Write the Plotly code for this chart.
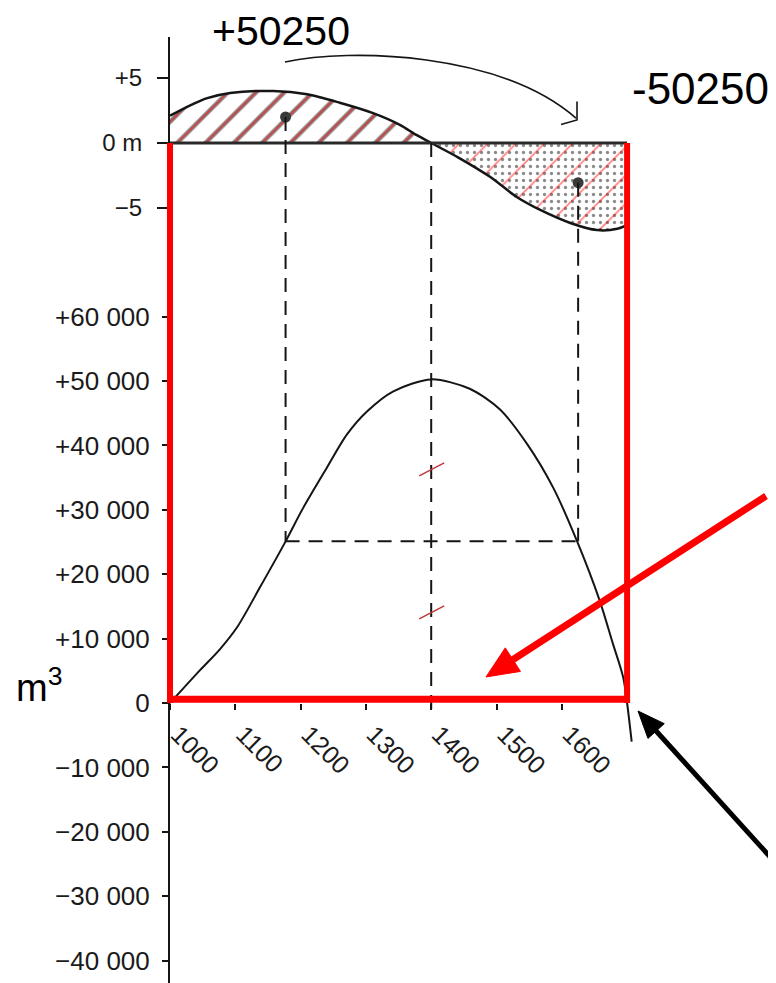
import math
import plotly.graph_objects as go

# ---------------- data ----------------
profile_station = [1000, 1031, 1057, 1092, 1158, 1210, 1260, 1311, 1352, 1378, 1400,
                   1441, 1490, 1531, 1567, 1613, 1654, 1685, 1700]
profile_height = [2.1, 2.9, 3.45, 3.85, 4.0, 3.75, 3.1, 2.3, 1.4, 0.6, 0.0,
                  -1.1, -2.6, -4.15, -5.15, -6.15, -6.7, -6.6, -6.3]

mass_station = [1000, 1046, 1076, 1103, 1138, 1176, 1204, 1240, 1271, 1302, 1342, 1400,
                1459, 1505, 1547, 1587, 1623, 1658, 1678, 1694, 1700, 1707]
mass_volume = [0, 5100, 8300, 11800, 18000, 24900, 30300, 36500, 41700, 45300, 48400, 50250,
               48800, 45600, 40200, 33400, 25200, 15900, 9300, 4000, 0, -6000]

station_ticks = [1000, 1100, 1200, 1300, 1400, 1500, 1600]
volume_ticks = [60000, 50000, 40000, 30000, 20000, 10000, 0,
                -10000, -20000, -30000, -40000]
volume_tick_labels = ["+60 000", "+50 000", "+40 000", "+30 000", "+20 000", "+10 000", "0",
                      "\u221210 000", "\u221220 000", "\u221230 000", "\u221240 000"]
height_ticks = [5, 0, -5]
height_tick_labels = ["+5", "0 m", "\u22125"]
height_minor_ticks = list(range(-8, 9))

centroid_station = [1177, 1625]
centroid_height = [2.0, -3.05]
balance_station = 1400
half_volume = 25125
bisect_volumes = [36200, 14000]
section_start, section_end = 1000, 1700
haul_labels = ["+50250", "-50250"]

# ---------------- layout geometry (page pixels; body has an 8px margin) ----------------
OFF = 8
PAGE_W, PAGE_H = 776, 983
W, H = PAGE_W - OFF, PAGE_H - OFF
AX_X, TOP_Y = 170, 37            # page position of the left axis and plot top
ML, MT = AX_X - OFF, TOP_Y - OFF
PLOT_W, PLOT_H = PAGE_W - AX_X, PAGE_H - TOP_Y
x_range = [1000, 1000 + PLOT_W / 0.653]
vol_range = [-(PAGE_H - 703) / 0.00644, (703 - TOP_Y) / 0.00644]
h_range = [-(PAGE_H - 143) / 13.0, (143 - TOP_Y) / 13.0]


def h_to_vol(h):
    f = (h - h_range[0]) / (h_range[1] - h_range[0])
    return vol_range[0] + f * (vol_range[1] - vol_range[0])


def paper_x(px):
    return (px - AX_X) / PLOT_W


def paper_y(py):
    return (PAGE_H - py) / PLOT_H


FONT = "Liberation Sans, Arial, sans-serif"
RED = "#ff0000"
INK = "#151515"

# split profile at the balance point
left_x = [s for s in profile_station if s <= balance_station]
left_y = profile_height[:len(left_x)]
right_x = [s for s in profile_station if s >= balance_station]
right_y = profile_height[len(profile_station) - len(right_x):]

fig = go.Figure()
clear = "rgba(0,0,0,0)"


def area(xs, ys, shape, color, size, solidity):
    fig.add_trace(go.Scatter(x=xs, y=ys, yaxis="y2", mode="lines",
                             line=dict(width=0, shape="spline", smoothing=0.8),
                             fill="tozeroy", fillcolor=clear,
                             fillpattern=dict(shape=shape, fgcolor=color, bgcolor=clear,
                                              size=size, solidity=solidity),
                             hoverinfo="skip"))


# cut area: black hatch + red hatch
area(left_x, left_y, "/", INK, 20, 0.22)
area(left_x, left_y, "/", RED, 20, 0.1)
# fill area: stipple + red hatch
area(right_x, right_y, ".", INK, 7, 0.17)
area(right_x, right_y, "/", RED, 20, 0.08)

# profile outline
fig.add_trace(go.Scatter(x=profile_station, y=profile_height, yaxis="y2", mode="lines",
                         line=dict(color=INK, width=2.5, shape="spline", smoothing=0.8)))
# centroids
fig.add_trace(go.Scatter(x=centroid_station, y=centroid_height, yaxis="y2", mode="markers",
                         marker=dict(color="#3a3a3a", size=11)))
# mass haul curve
fig.add_trace(go.Scatter(x=mass_station, y=mass_volume, yaxis="y", mode="lines",
                         line=dict(color=INK, width=2, shape="spline", smoothing=0.8)))

shapes = []
dash = dict(color=INK, width=2, dash="14px,9px")
# zero line of the profile
shapes.append(dict(type="line", xref="x", yref="y2", x0=section_start, x1=section_end,
                   y0=0, y1=0, line=dict(color="#2a2a2a", width=3)))
# dashed construction lines
for s, h in zip(centroid_station, centroid_height):
    shapes.append(dict(type="line", xref="x", yref="y", x0=s, x1=s,
                       y0=h_to_vol(h), y1=half_volume, line=dash))
shapes.append(dict(type="line", xref="x", yref="y", x0=balance_station, x1=balance_station,
                   y0=h_to_vol(0), y1=-1000, line=dash))
shapes.append(dict(type="line", xref="x", yref="y", x0=centroid_station[0], x1=centroid_station[1],
                   y0=half_volume, y1=half_volume, line=dash))
# red bisection marks
for v in bisect_volumes:
    shapes.append(dict(type="line", xref="x", yref="y", xsizemode="pixel", ysizemode="pixel",
                       xanchor=balance_station, yanchor=v, x0=-12, x1=13, y0=-6, y1=7,
                       line=dict(color="#c0393b", width=1.5)))
# red frame
shapes.append(dict(type="line", xref="x domain", yref="y", x0=0, x1=0,
                   y0=h_to_vol(0), y1=0, line=dict(color=RED, width=6)))
shapes.append(dict(type="line", xref="x", yref="y", x0=section_end, x1=section_end,
                   y0=h_to_vol(0), y1=0, line=dict(color=RED, width=6)))
shapes.append(dict(type="line", xref="x", yref="y", x0=section_start, x1=section_end + 2,
                   y0=600, y1=600, line=dict(color=RED, width=7)))
# curved haul arrow
shapes.append(dict(type="path", xref="x", yref="y2",
                   path="M 1176,6.23 C 1275.6,7.31 1505.4,7.0 1621.7,1.92",
                   line=dict(color=INK, width=1.6)))
shapes.append(dict(type="path", xref="x", yref="y2",
                   path="M 1623.3,3.2 L 1623.3,1.77 L 1598.8,1.42",
                   line=dict(color=INK, width=1.6)))


def straight_arrow(tail, tip, color, width, head_len, head_half):
    """Pointer arrow drawn as paper-referenced shapes (page-pixel inputs)."""
    dx, dy = tip[0] - tail[0], tip[1] - tail[1]
    n = math.hypot(dx, dy)
    ux, uy = dx / n, dy / n
    bx, by = tip[0] - ux * head_len, tip[1] - uy * head_len
    px_, py_ = -uy, ux
    c1 = (bx + px_ * head_half, by + py_ * head_half)
    c2 = (bx - px_ * head_half, by - py_ * head_half)
    out = [dict(type="line", xref="paper", yref="paper",
                x0=paper_x(tail[0]), y0=paper_y(tail[1]),
                x1=paper_x(bx + ux * 2), y1=paper_y(by + uy * 2),
                line=dict(color=color, width=width))]
    path = "M {:.5f},{:.5f} L {:.5f},{:.5f} L {:.5f},{:.5f} Z".format(
        paper_x(tip[0]), paper_y(tip[1]), paper_x(c1[0]), paper_y(c1[1]),
        paper_x(c2[0]), paper_y(c2[1]))
    out.append(dict(type="path", xref="paper", yref="paper", path=path,
                    fillcolor=color, line=dict(color=color, width=1)))
    return out


shapes += straight_arrow((766, 496), (486, 677), RED, 7, 32, 14)
shapes += straight_arrow((782, 870), (638, 711), "black", 5, 27, 11)

annotations = [
    dict(text=haul_labels[0], x=paper_x(281), y=paper_y(31), xref="paper", yref="paper",
         showarrow=False, font=dict(family=FONT, size=41, color="black"),
         xanchor="center", yanchor="middle", height=34),
    dict(text=haul_labels[1], x=paper_x(700), y=paper_y(89), xref="paper", yref="paper",
         showarrow=False, font=dict(family=FONT, size=44, color="black"),
         xanchor="center", yanchor="middle"),
    dict(text="m<sup>3</sup>", x=paper_x(14), y=paper_y(685), xref="paper", yref="paper",
         showarrow=False, font=dict(family=FONT, size=38, color="black"),
         xanchor="left", yanchor="middle"),
]

fig.update_layout(
    width=W, height=H,
    margin=dict(l=ML, r=0, t=MT, b=0),
    paper_bgcolor="white", plot_bgcolor="white",
    showlegend=False,
    shapes=shapes,
    annotations=annotations,
    xaxis=dict(range=x_range, anchor="free", position=paper_y(703),
               tickvals=station_ticks, ticktext=[str(t) for t in station_ticks],
               tickangle=45, ticks="outside", ticklen=6, tickwidth=1.5, tickcolor=INK,
               ticklabelshift=8,
               showline=False, showgrid=False, zeroline=False,
               tickfont=dict(family=FONT, size=25, color="#1a1a1a")),
    yaxis=dict(range=vol_range, anchor="x", side="left",
               showline=True, linewidth=2, linecolor=INK,
               tickvals=volume_ticks, ticktext=volume_tick_labels,
               ticks="outside", ticklen=6, tickwidth=2, tickcolor=INK,
               showgrid=False, zeroline=False,
               tickfont=dict(family=FONT, size=26, color="#1a1a1a"),
               ticklabelstandoff=7),
    yaxis2=dict(range=h_range, overlaying="y", anchor="x", side="left",
                tickvals=height_ticks, ticktext=height_tick_labels,
                ticks="outside", ticklen=12, tickwidth=2, tickcolor=INK,
                showline=False, showgrid=False, zeroline=False,
                tickfont=dict(family=FONT, size=24, color="#1a1a1a"),
                ticklabelstandoff=10),
    yaxis3=dict(range=h_range, overlaying="y", anchor="x", side="left",
                tickvals=height_minor_ticks, ticks="outside", ticklen=5, tickwidth=1.5,
                tickcolor=INK, showticklabels=False, showline=False, showgrid=False,
                zeroline=False),
    yaxis4=dict(range=h_range, overlaying="y", anchor="x", side="left",
                tickvals=height_minor_ticks, ticks="inside", ticklen=4, tickwidth=1.5,
                tickcolor=INK, showticklabels=False, showline=False, showgrid=False,
                zeroline=False),
    yaxis5=dict(range=h_range, overlaying="y", anchor="x", side="left",
                tickvals=height_ticks, ticks="inside", ticklen=12, tickwidth=2,
                tickcolor=INK, showticklabels=False, showline=False, showgrid=False,
                zeroline=False),
)

fig.write_html("out.html")
